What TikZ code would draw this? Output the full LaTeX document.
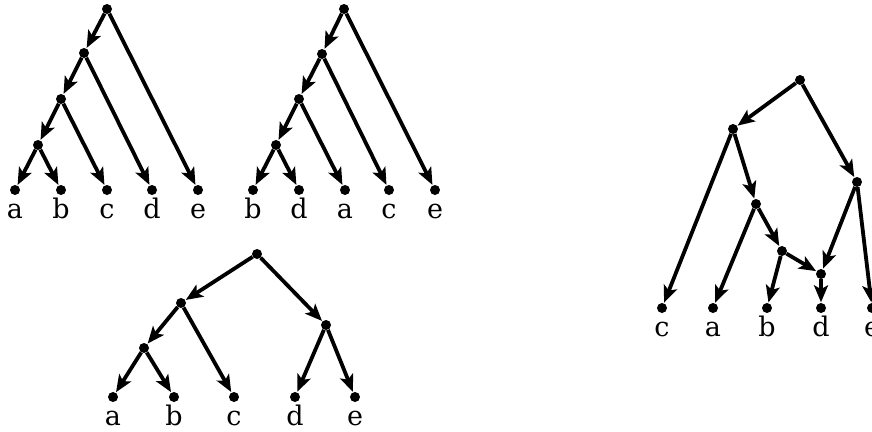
\documentclass[tikz,border=0pt]{standalone}
\usepackage{fontspec}
\setmainfont{DejaVu Serif}
\usetikzlibrary{arrows.meta}
\begin{document}
\begin{tikzpicture}[x=1pt,y=-1pt,
  dot/.style={circle,fill=black,inner sep=0pt,minimum size=10pt},
  lbl/.style={anchor=base,inner sep=0pt,font=\fontsize{27pt}{30pt}\selectfont},
  edge/.style={line width=3.8pt,-{Stealth[length=17pt,width=14pt,inset=4pt]},shorten >=0.5pt}]
\useasboundingbox (0,0) rectangle (872,431);
% ---------- tree 1 ----------
\node[dot] (t1r) at (107,9) {};
\node[dot] (t1n2) at (84,53) {};
\node[dot] (t1n3) at (61,99) {};
\node[dot] (t1n4) at (38,145) {};
\node[dot] (t1a) at (15,190) {};
\node[dot] (t1b) at (61,190) {};
\node[dot] (t1c) at (107,190) {};
\node[dot] (t1d) at (152,190) {};
\node[dot] (t1e) at (198,190) {};
\node[lbl] (t1la) at (15,218) {a};
\node[lbl] (t1lb) at (61,218) {b};
\node[lbl] (t1lc) at (107,218) {c};
\node[lbl] (t1ld) at (152,218) {d};
\node[lbl] (t1le) at (198,218) {e};
\draw[edge] (t1r) -- (t1n2);
\draw[edge] (t1r) -- (t1e);
\draw[edge] (t1n2) -- (t1n3);
\draw[edge] (t1n2) -- (t1d);
\draw[edge] (t1n3) -- (t1n4);
\draw[edge] (t1n3) -- (t1c);
\draw[edge] (t1n4) -- (t1a);
\draw[edge] (t1n4) -- (t1b);
% ---------- tree 2 ----------
\node[dot] (t2r) at (344,9) {};
\node[dot] (t2n2) at (322,54) {};
\node[dot] (t2n3) at (299,99) {};
\node[dot] (t2n4) at (276,145) {};
\node[dot] (t2b) at (253,190) {};
\node[dot] (t2d) at (299,190) {};
\node[dot] (t2a) at (345,190) {};
\node[dot] (t2c) at (389,190) {};
\node[dot] (t2e) at (435,190) {};
\node[lbl] (t2lb) at (253,218) {b};
\node[lbl] (t2ld) at (299,218) {d};
\node[lbl] (t2la) at (345,218) {a};
\node[lbl] (t2lc) at (389,218) {c};
\node[lbl] (t2le) at (435,218) {e};
\draw[edge] (t2r) -- (t2n2);
\draw[edge] (t2r) -- (t2e);
\draw[edge] (t2n2) -- (t2n3);
\draw[edge] (t2n2) -- (t2c);
\draw[edge] (t2n3) -- (t2n4);
\draw[edge] (t2n3) -- (t2a);
\draw[edge] (t2n4) -- (t2b);
\draw[edge] (t2n4) -- (t2d);
% ---------- tree 3 ----------
\node[dot] (t3r) at (257,254) {};
\node[dot] (t3L) at (181,303) {};
\node[dot] (t3R) at (326,325) {};
\node[dot] (t3LL) at (144,348) {};
\node[dot] (t3a) at (113,397) {};
\node[dot] (t3b) at (174,397) {};
\node[dot] (t3c) at (234,397) {};
\node[dot] (t3d) at (295,397) {};
\node[dot] (t3e) at (355,397) {};
\node[lbl] (t3la) at (113,425) {a};
\node[lbl] (t3lb) at (174,425) {b};
\node[lbl] (t3lc) at (234,425) {c};
\node[lbl] (t3ld) at (295,425) {d};
\node[lbl] (t3le) at (355,425) {e};
\draw[edge] (t3r) -- (t3L);
\draw[edge] (t3r) -- (t3R);
\draw[edge] (t3L) -- (t3LL);
\draw[edge] (t3L) -- (t3c);
\draw[edge] (t3LL) -- (t3a);
\draw[edge] (t3LL) -- (t3b);
\draw[edge] (t3R) -- (t3d);
\draw[edge] (t3R) -- (t3e);
% ---------- network 4 ----------
\node[dot] (t4r) at (800,80) {};
\node[dot] (t4A) at (733,129) {};
\node[dot] (t4B) at (857,182) {};
\node[dot] (t4C) at (756,204) {};
\node[dot] (t4D) at (782,251) {};
\node[dot] (t4E) at (821,274) {};
\node[dot] (t4c) at (662,308) {};
\node[dot] (t4a) at (713,308) {};
\node[dot] (t4b) at (767,308) {};
\node[dot] (t4d) at (821,308) {};
\node[dot] (t4e) at (872,308) {};
\node[lbl] (t4lc) at (662,336) {c};
\node[lbl] (t4la) at (713,336) {a};
\node[lbl] (t4lb) at (767,336) {b};
\node[lbl] (t4ld) at (821,336) {d};
\node[lbl] (t4le) at (872,336) {e};
\draw[edge] (t4r) -- (t4A);
\draw[edge] (t4r) -- (t4B);
\draw[edge] (t4A) -- (t4c);
\draw[edge] (t4A) -- (t4C);
\draw[edge] (t4C) -- (t4a);
\draw[edge] (t4C) -- (t4D);
\draw[edge] (t4D) -- (t4b);
\draw[edge] (t4D) -- (t4E);
\draw[edge] (t4B) -- (t4E);
\draw[edge] (t4E) -- (t4d);
\draw[edge] (t4B) -- (t4e);
\end{tikzpicture}
\end{document}
